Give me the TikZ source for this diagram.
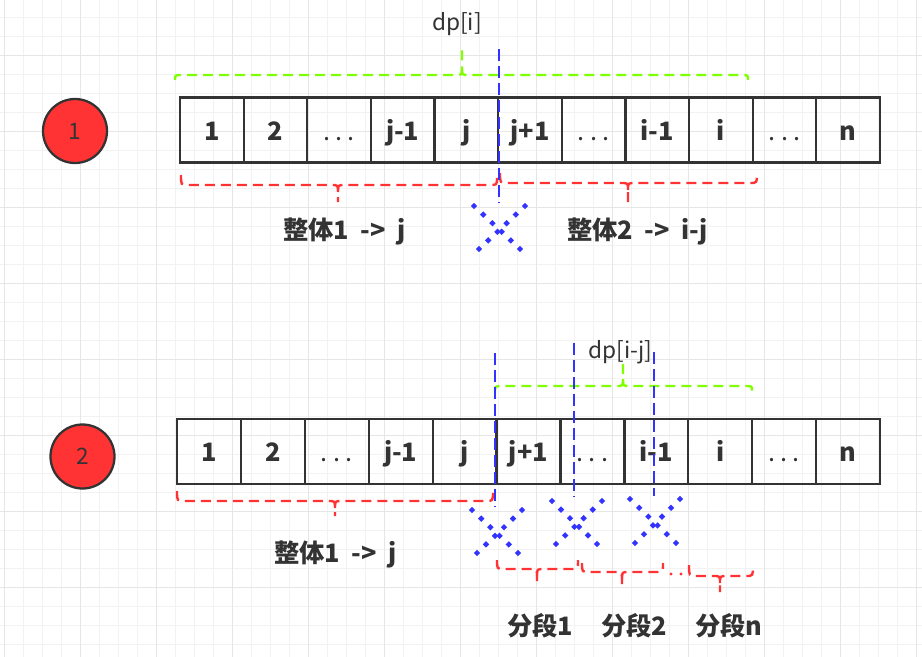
\documentclass[tikz,border=0pt]{standalone}
\usepackage{fontspec}
\setmainfont{Noto Sans CJK SC}
\newfontfamily\cjk{Noto Sans CJK SC}
\usetikzlibrary{calc}
\definecolor{ink}{HTML}{333333}
\definecolor{cred}{HTML}{FF3333}
\definecolor{cgreen}{HTML}{80FF00}
\definecolor{cblue}{HTML}{3333FF}
\definecolor{gminor}{HTML}{F2F2F2}
\definecolor{gmajor}{HTML}{E6E6E6}
\newcommand\tdots{{\mdseries.\kern4pt.\kern4pt.}}
% #1 colour, #2 x1, #3 x2, #4 xm, #5 yline, #6 ytip, #7 yend1, #8 yend2
\newcommand\hbrace[8]{%
  \pgfmathsetmacro\bdy{7*sign(#6-#5)}%
  \draw[bracestyle, draw=#1] (#2,#7) .. controls (#2,#5) .. ({#2+7},#5) -- ({#4-7},#5) .. controls (#4,#5) .. (#4,{#5+\bdy}) -- (#4,#6);
  \draw[bracestyle, draw=#1] (#4,{#5+\bdy}) .. controls (#4,#5) .. ({#4+7},#5) -- ({#3-7},#5) .. controls (#3,#5) .. (#3,#8);
}
% two dotted diagonals: A (#1,#2)-(#3,#4), B (#5,#6)-(#7,#8)
\newcommand\xcross[8]{%
  \foreach \tt in {0,0.2,0.4,0.6,0.8,1}{%
    \fill[cblue] ($(#1,#2)!\tt!(#3,#4)$) +(0,-3.2) -- +(3.2,0) -- +(0,3.2) -- +(-3.2,0) -- cycle;
    \fill[cblue] ($(#5,#6)!\tt!(#7,#8)$) +(0,-3.2) -- +(3.2,0) -- +(0,3.2) -- +(-3.2,0) -- cycle;
  }%
}
\begin{document}
\begin{tikzpicture}[x=0.75pt,y=-0.75pt,
  cellstyle/.style={draw=ink, line width=1.7pt, inner sep=0pt, minimum height=48.75pt,
    text height=17pt, text depth=2pt, text=ink, font=\fontsize{19}{21}\selectfont\bfseries},
  rowa/.style={cellstyle, minimum width=47.727pt},
  rowb/.style={cellstyle, minimum width=47.93pt},
  badge/.style={circle, draw=ink, line width=1.7pt, fill=cred, minimum size=48pt, inner sep=0pt,
    text=ink, font=\fontsize{17}{19}\selectfont},
  lbl/.style={anchor=base west, inner sep=0pt, text=ink, font=\fontsize{19}{21}\selectfont\bfseries},
  dplbl/.style={anchor=base, inner sep=0pt, text=ink, font=\fontsize{17}{19}\selectfont},
  bracestyle/.style={line width=1.8pt, dash pattern=on 7.5pt off 4.5pt},
  bline/.style={draw=cblue, line width=1.8pt, dash pattern=on 9pt off 3.75pt},
  gmin/.style={draw=gminor, line width=0.75pt},
  gmaj/.style={draw=gmajor, line width=0.75pt}]
\useasboundingbox (0,0) rectangle (922,657);
\fill[white] (0,0) rectangle (922,657);
% grid
\foreach \k in {0,...,48}{\draw[gmin] ({4+19*\k},0) -- ({4+19*\k},657);}
\foreach \k in {0,...,34}{\draw[gmin] (0,{-2+19*\k}) -- (922,{-2+19*\k});}
\foreach \k in {0,...,12}{\draw[gmaj] ({4+76*\k},0) -- ({4+76*\k},657);}
\foreach \k in {0,...,7}{\draw[gmaj] (0,{55+76*\k}) -- (922,{55+76*\k});}
% badges
\node[badge] (c1) at (75,131) {1};
\node[badge] (c2) at (82.5,456.5) {2};
% row 1 cells
\foreach \t [count=\k] in {1,2,\tdots,j-1,j,j+1,\tdots,i-1,i,\tdots,n}{
  \node[rowa] (a\k) at ({180+63.636*(\k-0.5)},130) {\t};
}
% row 2 cells
\foreach \t [count=\k] in {1,2,\tdots,j-1,j,j+1,\tdots,i-1,i,\tdots,n}{
  \node[rowb] (b\k) at ({177+63.909*(\k-0.5)},451.5) {\t};
}
% labels
\node[dplbl] (dpi) at (457,30) {dp[i]};
\node[dplbl] (dpij) at (620.5,358) {dp[i-j]};
\node[lbl] (w1) at (283,239) {整体1\ \ -> \ j};
\node[lbl] (w2) at (567,239) {整体2\ \ -> \ i-j};
\node[lbl] (w3) at (274,562) {整体1\ \ -> \ j};
\node[lbl] (s1) at (507,635) {分段1};
\node[lbl] (s2) at (601,635) {分段2};
\node[lbl] (s3) at (695,635) {分段n};
% braces row 1
\hbrace{cgreen}{175}{748}{462}{75}{50}{80}{80}
\hbrace{cred}{181}{497}{338}{185}{202}{175}{177}
\hbrace{cred}{500}{757}{628}{183}{202}{173}{173}
% braces row 2
\hbrace{cgreen}{495}{752}{623}{386}{360}{393}{391}
\hbrace{cred}{177}{493}{335}{501}{516}{491}{491}
\hbrace{cred}{497}{578}{537}{569}{587}{560}{560}
\hbrace{cred}{582}{663}{622}{572}{588}{563}{563}
\hbrace{cred}{689}{753}{720}{576}{592}{565}{565}
\fill[cred] (671,574) circle (1.6);
\fill[cred] (681,574) circle (1.6);
% blue split lines
\draw[bline] (499,49) -- (499,203);
\draw[bline] (495,353) -- (495,507);
\draw[bline] (574,343) -- (574,497);
\draw[bline] (654,352) -- (654,496);
% crosses
\xcross{474}{206}{520}{249}{525}{206}{479}{249}
\xcross{472}{510}{518}{553}{522}{510}{477}{553}
\xcross{552}{501}{597}{544}{602}{501}{556}{544}
\xcross{630}{499}{676}{543}{680}{499}{635}{543}
\end{tikzpicture}
\end{document}
